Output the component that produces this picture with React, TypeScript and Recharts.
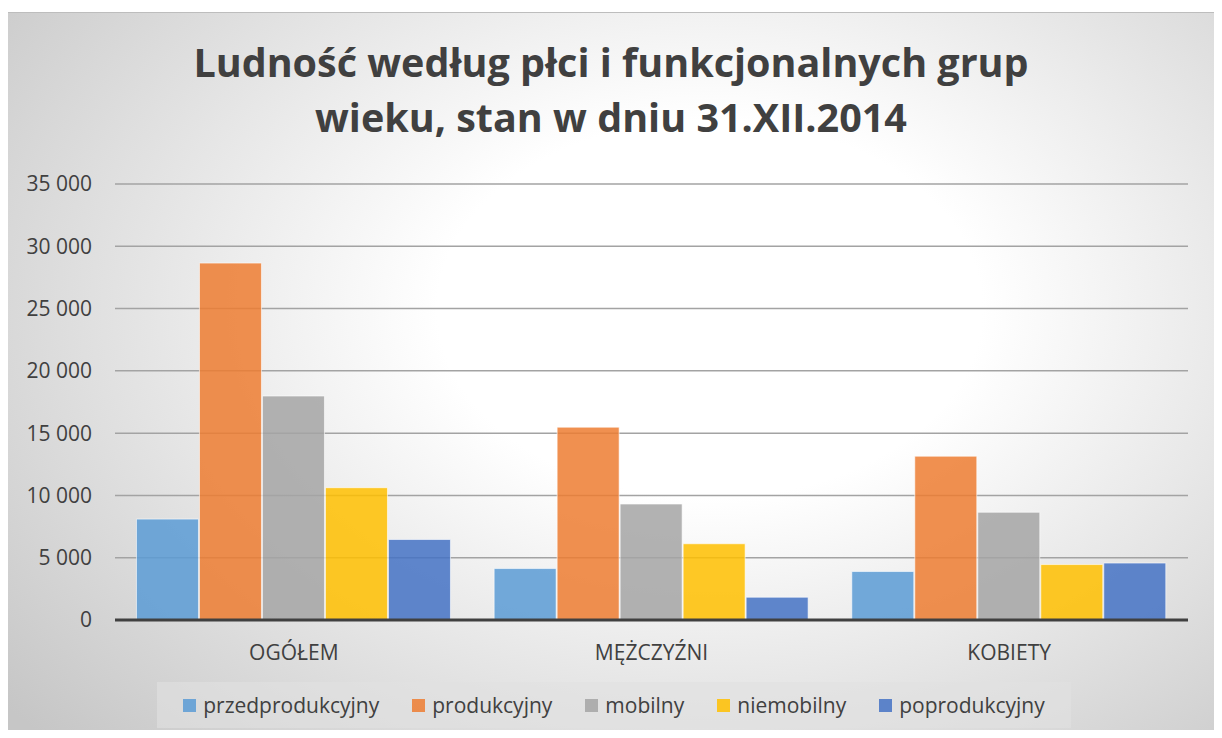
import React from 'react';
import { BarChart, Bar, XAxis, YAxis, CartesianGrid } from 'recharts';

const categories = ['OGÓŁEM', 'MĘŻCZYŹNI', 'KOBIETY'];

const przedprodukcyjny = [8100, 4130, 3890];
const produkcyjny = [28650, 15480, 13150];
const mobilny = [17980, 9310, 8650];
const niemobilny = [10620, 6120, 4450];
const poprodukcyjny = [6460, 1830, 4570];

const yTicks = [0, 5000, 10000, 15000, 20000, 25000, 30000, 35000];

const series = [
  { key: 'przedprodukcyjny', values: przedprodukcyjny, color: '#5B9BD5' },
  { key: 'produkcyjny', values: produkcyjny, color: '#ED7D31' },
  { key: 'mobilny', values: mobilny, color: '#A5A5A5' },
  { key: 'niemobilny', values: niemobilny, color: '#FFC000' },
  { key: 'poprodukcyjny', values: poprodukcyjny, color: '#4472C4' },
];

const data = categories.map((name, i) => {
  const row: Record<string, string | number> = { name };
  series.forEach((s) => {
    row[s.key] = s.values[i];
  });
  return row;
});

const FONT = '"Open Sans", sans-serif';

// "35 000" style thousands separator
const fmt = (v: number) => (v === 0 ? '0' : String(v).replace(/\B(?=(\d{3})+(?!\d))/g, ' '));

export default function App() {
  return (
    <div style={{ position: 'relative', width: 1222, height: 738, margin: -8, overflow: 'hidden', background: '#fff' }}>
      {/* chart frame with radial background */}
      <div
        style={{
          position: 'absolute',
          left: 7,
          top: 12,
          width: 1210,
          height: 740,
          border: '1px solid #bdbdbd',
          background: 'radial-gradient(ellipse 75% 85% at 58% 40%, #ffffff 0%, #ffffff 30%, #c6c6c6 100%)',
        }}
      />
      <div
        style={{
          position: 'absolute',
          left: 0,
          width: 1222,
          top: 35,
          textAlign: 'center',
          fontFamily: FONT,
          fontWeight: 700,
          fontSize: 39.5,
          lineHeight: '55px',
          color: '#404040',
        }}
      >
        Ludność według płci i funkcjonalnych grup
        <br />
        wieku, stan w dniu 31.XII.2014
      </div>
      <div style={{ position: 'absolute', left: 0, top: 0 }}>
        <BarChart
          width={1222}
          height={738}
          data={data}
          margin={{ top: 184, right: 34, bottom: 78, left: 0 }}
          barCategoryGap="6%"
          barGap={1}
        >
          <CartesianGrid horizontal vertical={false} stroke="#a3a3a3" strokeWidth={1.5} />
          <XAxis
            dataKey="name"
            axisLine={{ stroke: '#404040', strokeWidth: 3 }}
            tickLine={false}
            tickSize={0}
            tickMargin={25}
            height={40}
            tick={{ fontFamily: FONT, fontSize: 21, fill: '#404040' }}
          />
          <YAxis
            width={115}
            domain={[0, 35000]}
            ticks={yTicks}
            axisLine={false}
            tickLine={false}
            tickSize={0}
            tickMargin={23}
            tickFormatter={fmt}
            tick={{ fontFamily: FONT, fontSize: 21, fill: '#404040' }}
          />
          {series.map((s) => (
            <Bar
              key={s.key}
              dataKey={s.key}
              fill={s.color}
              fillOpacity={0.85}
              stroke="#ffffff"
              strokeOpacity={0.6}
              strokeWidth={1}
              isAnimationActive={false}
            />
          ))}
        </BarChart>
      </div>
      {/* legend */}
      <div
        style={{
          position: 'absolute',
          left: 157,
          top: 682,
          width: 914,
          height: 46,
          background: 'rgba(225,225,225,0.6)',
          display: 'flex',
          alignItems: 'center',
          justifyContent: 'center',
          gap: 33,
          fontFamily: FONT,
          fontSize: 21,
          color: '#404040',
        }}
      >
        {series.map((s) => (
          <div key={s.key} style={{ display: 'flex', alignItems: 'center' }}>
            <span
              style={{
                display: 'inline-block',
                width: 13,
                height: 13,
                background: s.color,
                opacity: 0.85,
                marginRight: 7,
              }}
            />
            {s.key}
          </div>
        ))}
      </div>
    </div>
  );
}
